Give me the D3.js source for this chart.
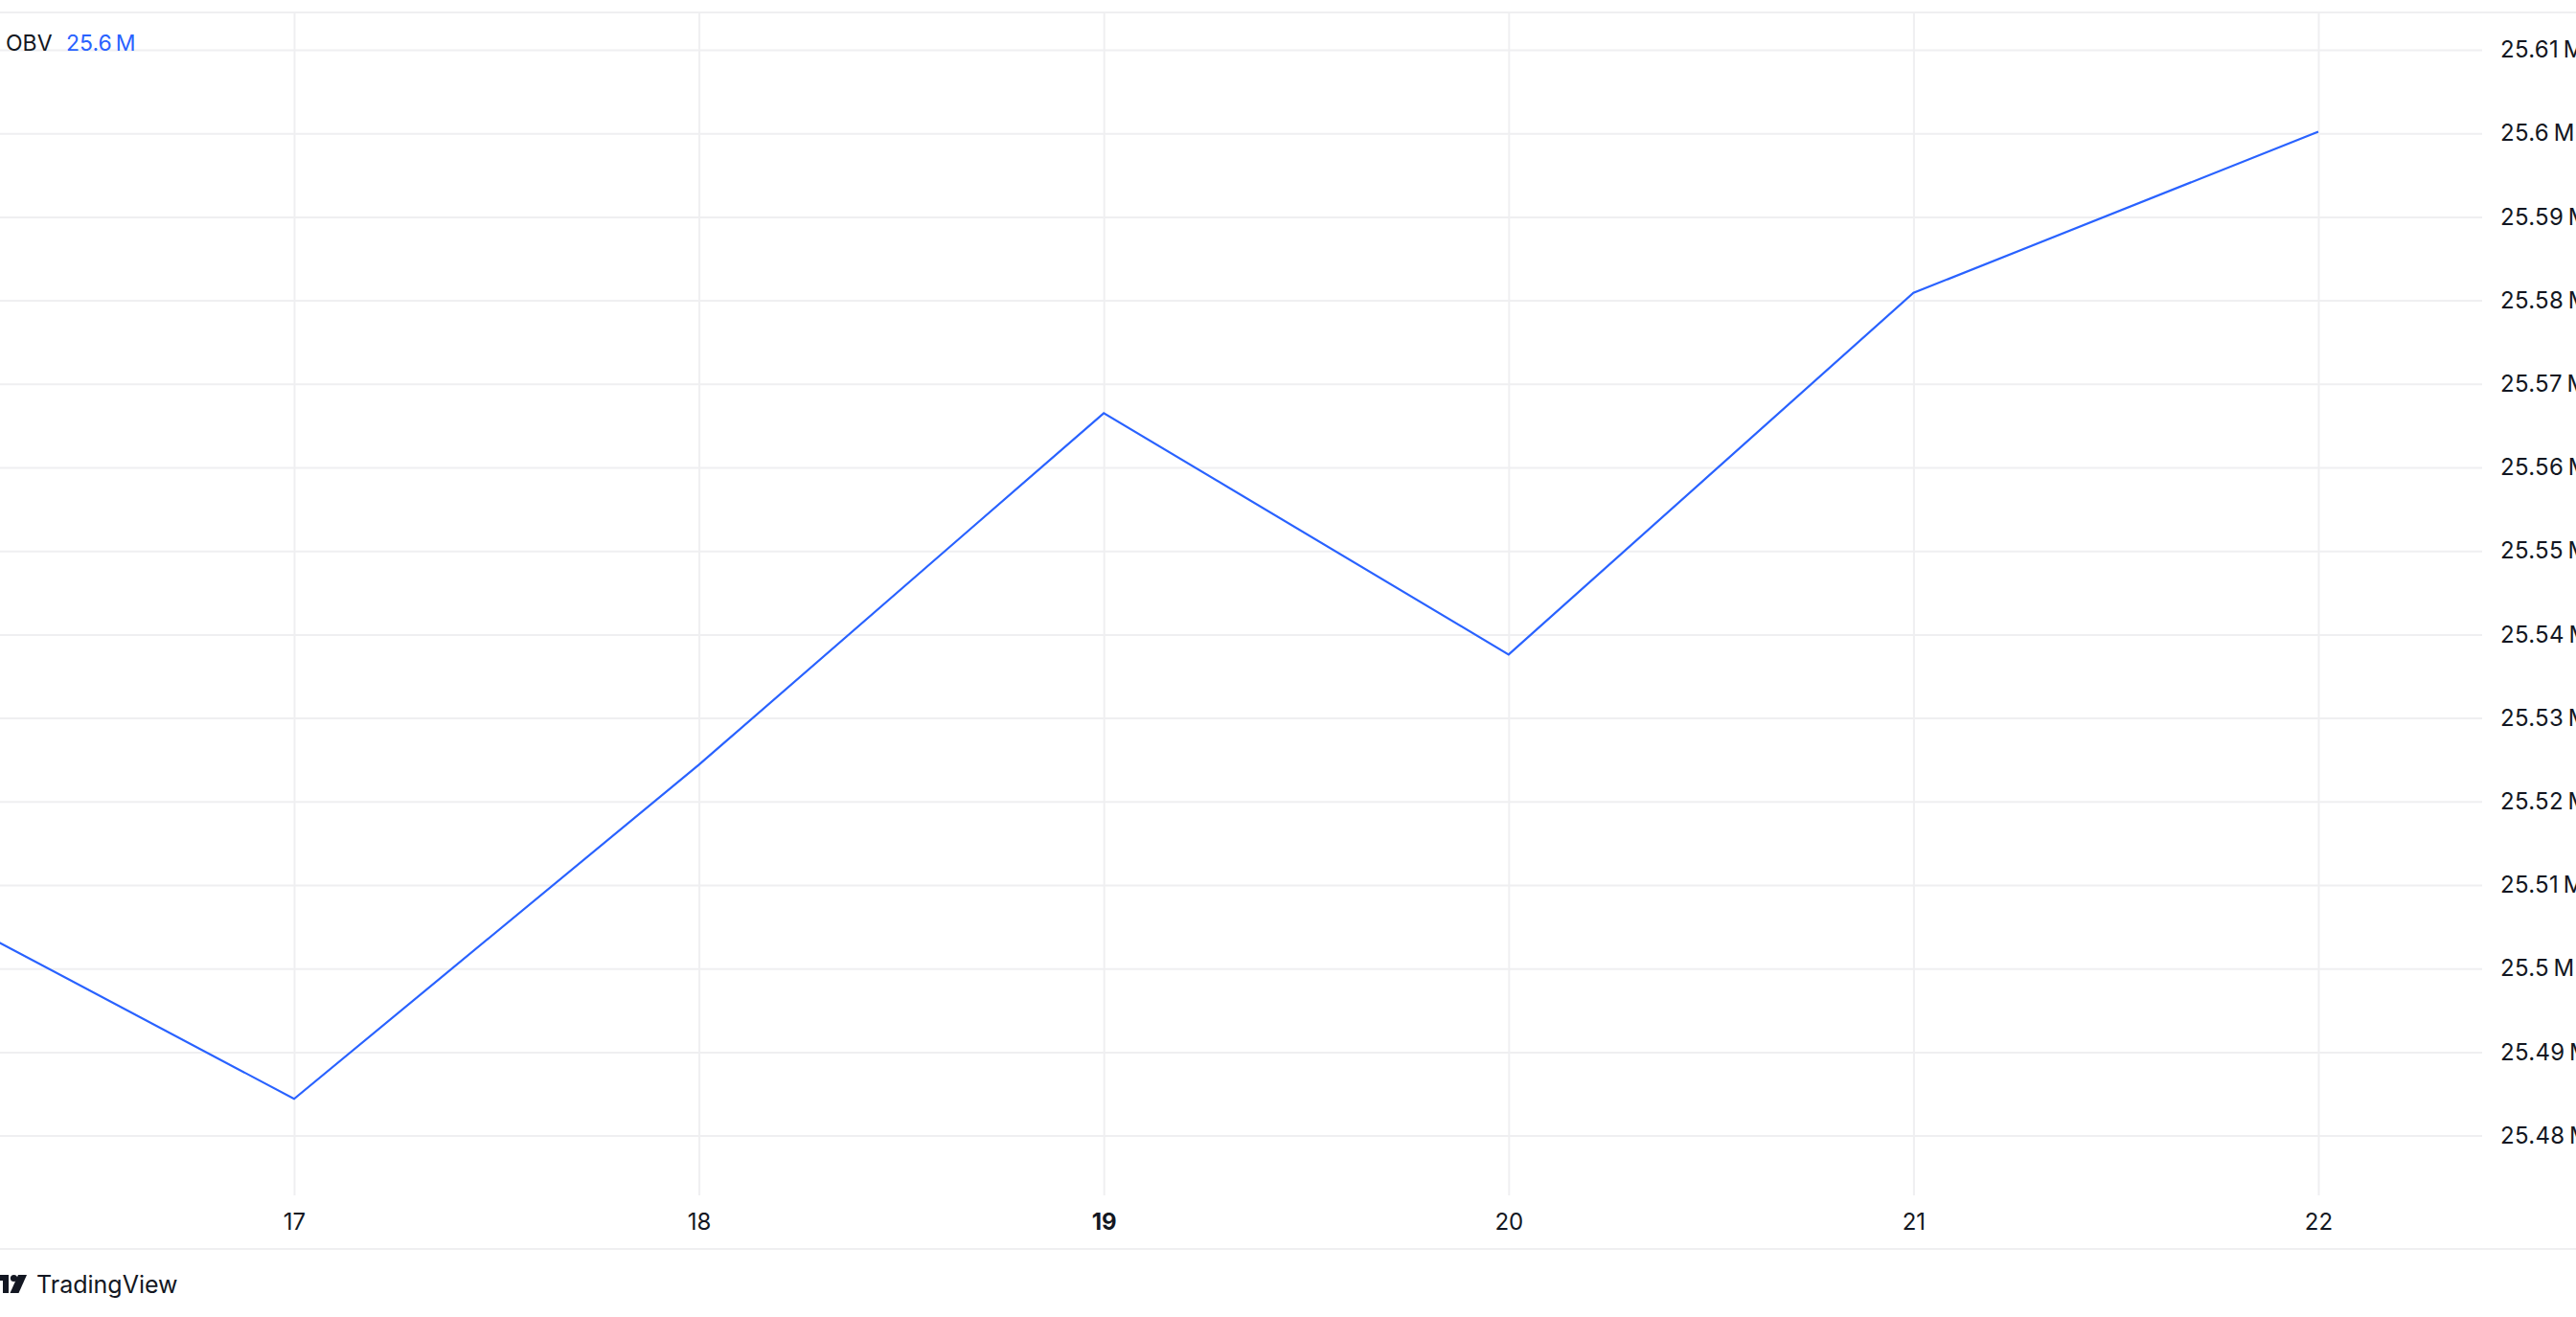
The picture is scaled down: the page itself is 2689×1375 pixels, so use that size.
<!DOCTYPE html>
<html>
<head>
<meta charset="utf-8">
<script src="https://cdn.jsdelivr.net/npm/d3@7"></script>
<style>
  html, body { margin: 0; padding: 0; background: #ffffff; overflow: hidden; }
  svg { display: block; }
  text { font-family: Inter, "Noto Sans", Roboto, sans-serif; }
</style>
</head>
<body>
<svg id="chart" width="2689" height="1375"></svg>
<script>
// ---- data ----
const days = [16, 17, 18, 19, 20, 21, 22];
const obvMillions = [25.5101, 25.4844, 25.5244, 25.5665, 25.5376, 25.5809, 25.6002];
const xTickDays = [17, 18, 19, 20, 21, 22];
const boldDays = [19];
const yTickValues = [25.48, 25.49, 25.50, 25.51, 25.52, 25.53, 25.54, 25.55, 25.56, 25.57, 25.58, 25.59, 25.60, 25.61];
const legendName = "OBV";
const legendValue = "25.6\u202FM";
const brandText = "TradingView";

// ---- layout ----
const W = 2689, H = 1375;
const topLine = 13;
const plotRight = 2591;
const plotBottom = 1248;
const bottomLine = 1304;
const gridColor = "#efeff1";
const textColor = "#131722";
const lineColor = "#2962ff";

const svg = d3.select("#chart");

const x = d3.scaleLinear().domain([17, 22]).range([307, 2420]);
const y = d3.scaleLinear().domain([25.48, 25.61]).range([1185.6, 52]);

const fmt = v => d3.format(".2f")(v).replace(/0+$/, "").replace(/\.$/, "") + "\u202FM";

// horizontal grid via axis
const yGrid = svg.append("g").attr("class", "ygrid")
  .call(d3.axisRight(y).tickValues(yTickValues).tickSize(plotRight).tickFormat(""));
yGrid.select(".domain").remove();
yGrid.selectAll("line").attr("stroke", gridColor).attr("stroke-width", 2);

// vertical grid via axis
const xGrid = svg.append("g").attr("class", "xgrid")
  .attr("transform", `translate(0,${plotBottom})`)
  .call(d3.axisTop(x).tickValues(xTickDays).tickSize(plotBottom - topLine).tickFormat(""));
xGrid.select(".domain").remove();
xGrid.selectAll("line").attr("stroke", gridColor).attr("stroke-width", 2);

// top and bottom separator lines
svg.append("line").attr("x1", 0).attr("x2", W).attr("y1", topLine).attr("y2", topLine)
  .attr("stroke", gridColor).attr("stroke-width", 2);
svg.append("line").attr("x1", 0).attr("x2", W).attr("y1", bottomLine).attr("y2", bottomLine)
  .attr("stroke", gridColor).attr("stroke-width", 2);

// y-axis labels (right)
const yAxis = svg.append("g").attr("transform", `translate(${plotRight},0)`)
  .call(d3.axisRight(y).tickValues(yTickValues).tickSize(0).tickPadding(19).tickFormat(fmt));
yAxis.select(".domain").remove();
yAxis.selectAll("text")
  .attr("fill", textColor)
  .style("font-size", "24px")
  .style("font-family", "Inter, sans-serif")
  .style("letter-spacing", "0.3px");

// x-axis labels (bottom)
const xAxis = svg.append("g").attr("transform", `translate(0,${plotBottom})`)
  .call(d3.axisBottom(x).tickValues(xTickDays).tickSize(0).tickPadding(19).tickFormat(d => String(d)));
xAxis.select(".domain").remove();
xAxis.selectAll("text")
  .attr("fill", textColor)
  .style("font-size", "24px")
  .style("font-family", "Inter, sans-serif")
  .style("font-weight", d => boldDays.includes(d) ? 700 : 400);

// clip for the plot area
svg.append("clipPath").attr("id", "plotclip")
  .append("rect").attr("x", 0).attr("y", topLine).attr("width", plotRight).attr("height", plotBottom - topLine);

// OBV line
const pts = days.map((d, i) => [d, obvMillions[i]]);
svg.append("path")
  .datum(pts)
  .attr("clip-path", "url(#plotclip)")
  .attr("fill", "none")
  .attr("stroke", lineColor)
  .attr("stroke-width", 2.2)
  .attr("stroke-linejoin", "miter")
  .attr("d", d3.line().x(p => x(p[0])).y(p => y(p[1])));

// legend
const leg = svg.append("text").attr("x", 6).attr("y", 53)
  .style("font-size", "23px");
leg.append("tspan").attr("fill", textColor).text(legendName);
leg.append("tspan").attr("x", 69).attr("fill", lineColor).text(legendValue);

// TradingView brand
const logo = svg.append("g").attr("transform", "translate(0,1331)");
logo.append("path").attr("d", "M-8,0 H9 V19 H3 V6 H-8 Z").attr("fill", textColor);
logo.append("circle").attr("cx", 14.5).attr("cy", 3.5).attr("r", 3.6).attr("fill", textColor);
logo.append("path").attr("d", "M19,0 H28 L19.5,19 H10.5 Z").attr("fill", textColor);
svg.append("text").attr("x", 38).attr("y", 1350)
  .attr("fill", textColor)
  .style("font-size", "25px")
  .text(brandText);
</script>
</body>
</html>
